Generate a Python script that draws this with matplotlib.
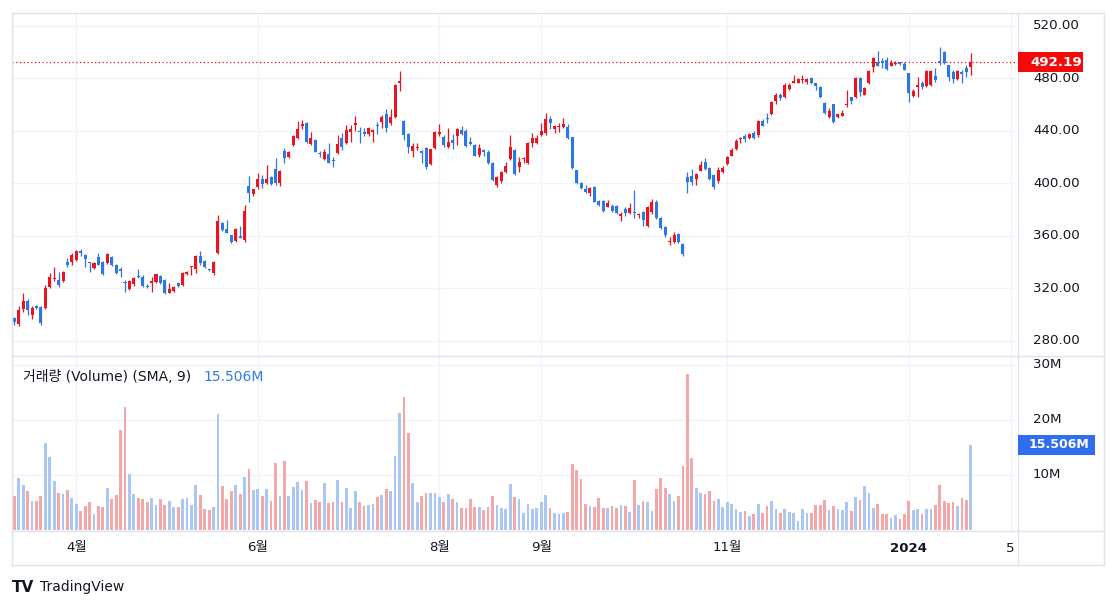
import matplotlib
matplotlib.use("Agg")
import matplotlib.pyplot as plt
import matplotlib.transforms as mtransforms
from matplotlib.patches import Rectangle
from matplotlib.lines import Line2D
import pandas as pd

plt.rcParams['font.family'] = ['DejaVu Sans', 'Noto Sans CJK KR']

# ---------------- data ----------------
holidays = ['2023-04-07', '2023-05-29', '2023-06-19', '2023-07-04', '2023-09-04',
            '2023-11-23', '2023-12-25', '2024-01-01', '2024-01-15', '2024-02-19']

opens = [
    297.1, 292.5, 304.2, 310.6, 299.7, 306.5, 306.0, 304.7, 320.7, 327.0,
    326.3, 325.8, 340.3, 339.8, 341.6, 348.6, 345.4, 339.8, 335.2, 343.6,
    340.3, 339.0, 343.6, 337.8, 334.5, 324.3, 319.2, 323.0, 329.5, 328.9,
    321.8, 323.8, 325.0, 329.4, 326.3, 316.7, 318.2, 323.8, 322.5, 330.6,
    336.2, 334.4, 344.9, 341.1, 334.5, 331.4, 347.1, 369.5, 365.2, 360.6,
    356.3, 360.1, 356.8, 397.9, 391.9, 396.9, 403.0, 400.0, 405.0, 410.6,
    400.0, 424.9, 419.8, 429.2, 434.8, 443.9, 446.2, 429.7, 433.0, 423.3,
    418.3, 422.3, 417.8, 422.8, 434.6, 431.0, 439.3, 444.4, 439.8, 439.3,
    437.6, 439.3, 444.4, 447.0, 452.8, 445.7, 450.3, 476.7, 447.7, 437.6,
    424.9, 427.2, 424.9, 427.1, 414.7, 426.6, 437.6, 435.5, 427.4, 433.0,
    436.0, 440.6, 440.1, 431.7, 429.2, 421.6, 425.4, 424.1, 415.2, 398.7,
    402.0, 408.9, 418.3, 425.4, 412.2, 418.2, 415.7, 430.5, 431.0, 436.8,
    438.1, 449.0, 441.1, 443.2, 442.6, 442.6, 435.0, 410.1, 400.5, 395.7,
    392.4, 397.4, 386.8, 386.5, 382.2, 382.7, 382.7, 375.1, 380.2, 377.1,
    377.6, 376.2, 378.4, 367.5, 377.9, 385.5, 373.3, 367.0, 355.3, 355.0,
    361.4, 353.8, 405.0, 405.6, 403.0, 409.6, 416.0, 411.9, 406.3, 402.0,
    408.4, 414.4, 421.0, 425.9, 433.5, 436.0, 434.8, 438.6, 436.8, 447.5,
    449.2, 452.5, 463.0, 467.3, 465.5, 471.8, 476.7, 476.7, 479.0, 477.4,
    480.0, 476.2, 473.6, 461.4, 450.3, 460.2, 450.3, 451.3, 459.5, 465.5,
    465.5, 480.5, 467.3, 476.2, 488.9, 492.7, 493.4, 493.9, 489.4, 491.2,
    492.2, 490.9, 483.8, 466.5, 473.1, 476.7, 474.1, 474.9, 481.7, 493.0,
    500.3, 490.1, 485.1, 479.2, 485.1, 487.6, 488.5]

highs = [
    297.9, 306.5, 316.7, 311.6, 306.5, 307.0, 306.5, 322.5, 331.9, 336.0,
    332.7, 333.5, 342.8, 346.6, 349.0, 350.0, 346.0, 340.3, 340.0, 346.6,
    341.0, 347.0, 344.5, 338.5, 336.5, 326.3, 326.5, 329.0, 334.5, 330.0,
    323.0, 328.9, 331.0, 330.0, 327.0, 324.3, 322.0, 324.5, 332.7, 333.5,
    337.0, 345.5, 348.4, 341.5, 335.0, 341.0, 375.8, 370.8, 372.0, 361.0,
    366.0, 367.5, 383.5, 405.6, 396.0, 408.1, 406.3, 413.9, 405.5, 419.5,
    410.0, 426.6, 424.9, 437.0, 447.7, 448.2, 447.0, 439.3, 434.0, 424.9,
    425.9, 431.0, 420.3, 436.8, 438.6, 444.4, 444.4, 451.3, 443.1, 441.9,
    443.1, 441.0, 447.0, 452.0, 456.4, 456.4, 475.5, 485.6, 448.5, 438.0,
    430.4, 430.4, 425.4, 428.0, 426.5, 440.0, 445.2, 436.5, 441.9, 437.3,
    442.0, 443.6, 441.0, 435.5, 430.0, 429.7, 426.1, 425.0, 416.0, 405.5,
    409.5, 416.5, 436.8, 426.0, 419.8, 420.3, 431.7, 438.6, 436.8, 446.2,
    453.3, 451.5, 444.5, 445.7, 449.5, 445.2, 435.5, 410.5, 401.0, 398.7,
    397.2, 398.0, 387.5, 387.0, 387.3, 384.0, 383.5, 378.4, 381.7, 384.7,
    394.9, 377.6, 379.0, 383.0, 387.8, 387.3, 374.0, 367.5, 359.3, 363.2,
    362.0, 354.3, 408.9, 410.6, 408.0, 417.0, 419.0, 412.5, 407.0, 412.2,
    413.2, 421.0, 426.6, 434.0, 435.0, 437.6, 438.0, 440.1, 448.2, 448.7,
    453.8, 463.0, 468.5, 468.5, 476.2, 476.7, 482.5, 480.0, 482.5, 480.0,
    481.2, 476.5, 474.0, 462.0, 457.1, 460.5, 453.0, 455.8, 471.1, 466.0,
    481.0, 481.0, 473.0, 486.3, 496.5, 501.1, 495.2, 496.5, 493.9, 493.4,
    492.7, 492.2, 484.3, 471.6, 481.2, 478.2, 486.3, 486.0, 487.6, 504.1,
    501.0, 490.5, 486.3, 486.3, 486.3, 490.1, 499.5]

lows = [
    292.0, 291.5, 302.2, 299.7, 296.4, 304.0, 292.0, 304.0, 320.0, 325.8,
    321.3, 325.0, 336.5, 337.8, 341.0, 344.6, 336.5, 332.7, 334.5, 337.5,
    330.0, 338.5, 337.0, 331.0, 328.9, 317.4, 318.5, 322.0, 327.5, 321.0,
    320.0, 317.4, 324.0, 323.0, 316.0, 316.2, 317.5, 321.0, 322.0, 330.0,
    330.1, 331.9, 337.7, 335.5, 333.0, 330.0, 346.0, 364.0, 361.9, 354.5,
    355.5, 358.0, 355.5, 386.0, 390.0, 396.0, 396.2, 399.5, 398.5, 399.0,
    397.9, 415.2, 419.0, 428.5, 434.0, 441.1, 431.0, 429.0, 423.5, 420.3,
    417.5, 415.2, 412.2, 422.0, 425.4, 430.0, 431.7, 439.8, 431.0, 436.0,
    436.0, 431.7, 437.6, 441.9, 439.3, 444.4, 449.5, 470.6, 433.0, 423.3,
    419.8, 425.4, 415.7, 411.0, 414.0, 426.0, 436.0, 427.4, 427.0, 426.1,
    429.2, 437.0, 427.5, 429.0, 420.5, 420.3, 421.0, 414.5, 402.0, 397.5,
    400.0, 407.6, 417.5, 406.0, 408.4, 415.2, 415.0, 427.9, 430.0, 436.0,
    437.0, 441.1, 438.1, 439.4, 442.0, 433.5, 411.0, 399.5, 395.5, 392.4,
    390.3, 385.5, 383.0, 378.5, 381.7, 378.4, 376.6, 371.5, 375.1, 376.6,
    373.3, 373.3, 367.5, 367.0, 377.0, 373.0, 365.0, 359.3, 353.0, 354.5,
    354.8, 344.6, 392.9, 398.7, 398.7, 409.0, 410.0, 402.5, 396.0, 400.0,
    408.0, 414.0, 420.5, 425.5, 431.0, 431.7, 434.0, 434.0, 435.5, 443.5,
    445.7, 452.0, 460.2, 463.5, 465.0, 471.1, 476.2, 476.2, 476.7, 475.4,
    475.4, 471.1, 465.0, 453.0, 450.0, 446.0, 449.5, 451.0, 458.4, 460.4,
    465.0, 466.5, 467.0, 475.5, 485.1, 489.0, 487.6, 486.3, 489.0, 490.1,
    490.1, 486.0, 462.2, 466.0, 466.0, 471.6, 473.5, 474.5, 477.4, 490.5,
    490.9, 478.2, 476.7, 478.7, 476.7, 481.2, 482.5]

closes = [
    294.6, 303.5, 310.6, 303.5, 304.7, 305.0, 293.3, 320.0, 328.4, 327.8,
    322.5, 332.7, 337.8, 345.4, 348.4, 346.6, 342.1, 339.0, 339.5, 338.0,
    330.6, 346.1, 337.8, 331.9, 333.4, 323.8, 325.6, 328.1, 328.4, 321.8,
    321.0, 325.8, 330.6, 323.8, 316.7, 319.4, 321.3, 321.8, 331.4, 332.7,
    336.8, 344.9, 339.5, 336.0, 334.0, 340.3, 371.3, 364.4, 362.4, 355.5,
    365.2, 358.6, 378.9, 392.9, 395.4, 403.0, 399.5, 403.0, 399.5, 400.0,
    409.4, 419.5, 424.1, 436.3, 441.4, 445.2, 431.7, 434.2, 424.1, 422.3,
    423.6, 415.7, 417.2, 430.0, 427.8, 440.6, 441.1, 446.2, 438.8, 437.6,
    441.9, 440.6, 443.6, 450.8, 441.9, 450.8, 474.9, 477.9, 436.8, 427.4,
    428.4, 427.6, 422.8, 412.2, 425.9, 439.3, 439.3, 429.2, 431.7, 430.4,
    441.1, 437.6, 428.4, 429.7, 421.0, 426.6, 424.1, 415.2, 402.5, 405.0,
    408.9, 413.2, 427.4, 406.8, 416.5, 418.6, 430.5, 434.3, 434.3, 439.8,
    448.7, 445.7, 443.9, 443.7, 445.2, 434.3, 411.4, 400.0, 396.2, 393.1,
    396.7, 386.0, 383.5, 378.9, 385.2, 379.2, 377.1, 376.6, 377.1, 380.9,
    377.1, 376.6, 372.0, 382.2, 386.0, 373.3, 365.7, 360.6, 355.7, 360.6,
    355.5, 346.1, 401.2, 401.2, 407.1, 413.9, 410.6, 403.0, 396.9, 410.1,
    411.9, 420.3, 425.4, 432.2, 434.3, 433.5, 437.6, 434.8, 447.5, 443.9,
    448.8, 462.2, 467.3, 464.7, 474.9, 474.9, 477.9, 479.5, 479.4, 479.5,
    476.7, 474.1, 465.5, 453.8, 455.3, 446.4, 452.5, 453.8, 460.2, 462.7,
    480.5, 469.8, 472.4, 485.8, 495.2, 489.6, 491.9, 486.8, 491.9, 491.4,
    490.9, 486.3, 468.5, 470.6, 474.9, 473.6, 485.6, 485.6, 478.7, 491.5,
    491.9, 481.2, 479.2, 485.8, 483.0, 484.5, 492.19]

volumes_m = [
    6.2, 9.4, 8.2, 7.1, 5.3, 5.2, 6.1, 15.8, 13.2, 8.9,
    6.7, 6.5, 7.3, 5.9, 4.7, 3.5, 4.4, 5.0, 2.9, 4.4,
    4.2, 7.6, 5.6, 6.4, 18.2, 22.4, 10.2, 6.5, 5.9, 5.7,
    5.0, 5.8, 4.5, 5.6, 4.5, 5.3, 4.2, 4.2, 5.6, 5.9,
    4.5, 8.2, 6.4, 3.8, 3.6, 4.2, 21.1, 8.0, 5.6, 7.1,
    8.2, 6.5, 9.7, 11.1, 7.3, 7.5, 6.2, 7.5, 5.3, 12.1,
    6.2, 12.5, 6.2, 7.9, 8.7, 7.3, 8.9, 4.9, 5.5, 5.1,
    8.5, 4.9, 5.0, 9.1, 5.0, 7.6, 4.0, 7.0, 5.0, 4.4,
    4.5, 4.7, 6.0, 6.4, 7.5, 7.0, 13.5, 21.2, 24.1, 17.6,
    8.5, 5.0, 6.2, 6.8, 6.7, 6.7, 6.0, 5.0, 6.5, 5.6,
    5.0, 4.0, 4.0, 5.6, 4.2, 4.2, 3.6, 4.2, 6.2, 4.5,
    4.0, 3.8, 8.3, 6.0, 5.6, 3.1, 4.7, 3.8, 4.0, 5.0,
    6.4, 4.0, 3.1, 2.9, 3.1, 3.2, 12.0, 10.9, 9.3, 4.8,
    4.4, 4.2, 5.8, 4.0, 4.0, 4.4, 4.0, 4.5, 4.4, 3.3,
    9.1, 4.5, 5.3, 5.1, 3.5, 7.5, 9.5, 7.6, 6.5, 5.3,
    6.2, 11.6, 28.4, 13.1, 7.6, 6.7, 6.5, 7.0, 5.3, 5.6,
    4.2, 5.1, 4.7, 3.8, 3.3, 3.5, 2.5, 2.9, 4.7, 3.1,
    4.4, 5.3, 3.8, 3.1, 3.8, 3.3, 3.1, 1.6, 3.8, 3.1,
    3.1, 4.5, 4.5, 5.5, 3.6, 4.4, 3.8, 3.6, 5.1, 3.5,
    6.0, 5.5, 8.0, 6.7, 4.0, 4.7, 2.9, 2.9, 2.2, 2.7,
    2.0, 2.9, 5.3, 3.6, 3.8, 2.9, 3.8, 3.8, 4.5, 8.2,
    5.3, 4.9, 5.1, 4.4, 5.8, 5.5, 15.506]

price_ticks = [280, 320, 360, 400, 440, 480, 520]
volume_ticks = [10, 20, 30]
volume_tick_labels = ['10M', '20M', '30M']
month_tick_dates = ['2023-04-03', '2023-06-01', '2023-08-01', '2023-09-01',
                    '2023-11-01', '2024-01-02', '2024-02-05']
month_tick_labels = ['4월', '6월', '8월', '9월', '11월', '2024', '5']
last_price = closes[-1]
last_volume_text = '15.506M'
legend_text = '거래량 (Volume) (SMA, 9)'

# ---------------- styling ----------------
W, H = 1118, 609
UP = '#e8141f'
DOWN = '#2b78e4'
VUP = '#a9c7f2'     # volume of rising candles
VDOWN = '#f4a7a8'   # volume of falling candles
GRID = '#f0f3fa'
FRAME = '#e0e3eb'
TXT = '#131722'
FS = 9.6

days = pd.bdate_range('2023-03-14', '2024-02-29')
days = days[~days.isin(pd.to_datetime(holidays))]
n = len(closes)
xs = list(range(n))
tick_pos = [days.get_loc(pd.Timestamp(d)) for d in month_tick_dates]


def box(x0, y0, x1, y1):
    return [x0 / W, 1 - y1 / H, (x1 - x0) / W, (y1 - y0) / H]


fig = plt.figure(figsize=(W / 100, H / 100), dpi=100)
fig.patch.set_facecolor('white')

ax_p = fig.add_axes(box(12, 13, 1017, 355))
ax_v = fig.add_axes(box(12, 355, 1017, 530), sharex=ax_p)

spacing = 4.428
x_left = (12 - 14.3) / spacing
x_right = (1017 - 14.3) / spacing
ax_p.set_xlim(x_left, x_right)
ax_p.set_ylim(269.2, 529.75)
ax_v.set_ylim(0, 31.8)

for ax in (ax_p, ax_v):
    for s in ax.spines.values():
        s.set_visible(False)
    ax.tick_params(left=False, bottom=False, right=False, top=False,
                   labelleft=False, labelbottom=False)
    ax.set_facecolor('white')
    for t in tick_pos:
        ax.axvline(t, color=GRID, lw=1, zorder=0)

for v in price_ticks:
    ax_p.axhline(v, color=GRID, lw=1, zorder=0)
for v in volume_ticks:
    ax_v.axhline(v, color=GRID, lw=1, zorder=0)

# candles
up = [c >= o for o, c in zip(opens, closes)]
ccol = [UP if u else DOWN for u in up]
ax_p.vlines(xs, lows, highs, colors=ccol, linewidth=0.9, zorder=2)
bottoms = [min(o, c) for o, c in zip(opens, closes)]
heights = [max(abs(c - o), 0.8) for o, c in zip(opens, closes)]
ax_p.bar(xs, heights, bottom=bottoms, width=0.68, color=ccol, linewidth=0, zorder=3)

# last price dotted line
ax_p.axhline(last_price, color='#e01010', lw=0.9, ls=(0, (1, 2)), zorder=1)

# volume bars
vcol = [VUP if u else VDOWN for u in up]
ax_v.bar(xs, volumes_m, width=0.62, color=vcol, linewidth=0, zorder=2)

# ---------------- frame lines ----------------
def hline(y, x0, x1):
    fig.add_artist(Line2D([x0 / W, x1 / W], [1 - y / H, 1 - y / H],
                          color=FRAME, lw=1, transform=fig.transFigure))


def vline(x, y0, y1):
    fig.add_artist(Line2D([x / W, x / W], [1 - y0 / H, 1 - y1 / H],
                          color=FRAME, lw=1, transform=fig.transFigure))


hline(13, 12, 1104)
hline(355.5, 12, 1104)
hline(530.5, 12, 1104)
hline(564.5, 12, 1104)
vline(12, 13, 565)
vline(1017.5, 13, 565)
vline(1104, 13, 565)

# ---------------- axis labels ----------------
tr_p = mtransforms.blended_transform_factory(fig.transFigure, ax_p.transData)
tr_v = mtransforms.blended_transform_factory(fig.transFigure, ax_v.transData)
lab_x = 1033 / W
for v in price_ticks:
    ax_p.text(lab_x, v, f'{v:.2f}', transform=tr_p, ha='left', va='center',
              fontsize=FS, color=TXT, clip_on=False)
for v, s in zip(volume_ticks, volume_tick_labels):
    ax_v.text(lab_x, v, s, transform=tr_v, ha='left', va='center',
              fontsize=FS, color=TXT, clip_on=False)

tr_x = mtransforms.blended_transform_factory(ax_v.transData, fig.transFigure)
for t, s in zip(tick_pos, month_tick_labels):
    ax_v.text(t, 1 - 548 / H, s, transform=tr_x, ha='center', va='center',
              fontsize=FS, color=TXT, clip_on=False,
              fontweight='bold' if s.isdigit() and len(s) == 4 else 'normal')

# last price label
y_lp = ax_p.transData.transform((0, last_price))[1]
fig.add_artist(Rectangle((1018 / W, y_lp / H - 10 / H), 65 / W, 20 / H,
                         transform=fig.transFigure, facecolor='#f50a0a',
                         edgecolor='none', zorder=5))
fig.text(1030 / W, y_lp / H, f'{last_price:.2f}', ha='left', va='center',
         fontsize=FS, color='white', fontweight='bold', zorder=6)

# last volume label
y_lv = ax_v.transData.transform((0, volumes_m[-1]))[1]
fig.add_artist(Rectangle((1018 / W, y_lv / H - 10 / H), 77 / W, 20 / H,
                         transform=fig.transFigure, facecolor='#2f6fef',
                         edgecolor='none', zorder=5))
fig.text(1029 / W, y_lv / H, last_volume_text, ha='left', va='center',
         fontsize=9.0, color='white', fontweight='bold', zorder=6)

# legend of volume pane
fig.text(23 / W, 1 - 377 / H, legend_text, ha='left', va='center',
         fontsize=10, color=TXT)
fig.text(203 / W, 1 - 377 / H, last_volume_text, ha='left', va='center',
         fontsize=10, color='#2f7de1')

# TradingView logo
fig.text(12 / W, 1 - 587 / H, 'TV', ha='left', va='center', fontsize=11,
         color=TXT, fontweight='bold')
fig.text(40 / W, 1 - 587 / H, 'TradingView', ha='left', va='center',
         fontsize=10, color=TXT)

fig.savefig('out.png', dpi=100, facecolor='white')
